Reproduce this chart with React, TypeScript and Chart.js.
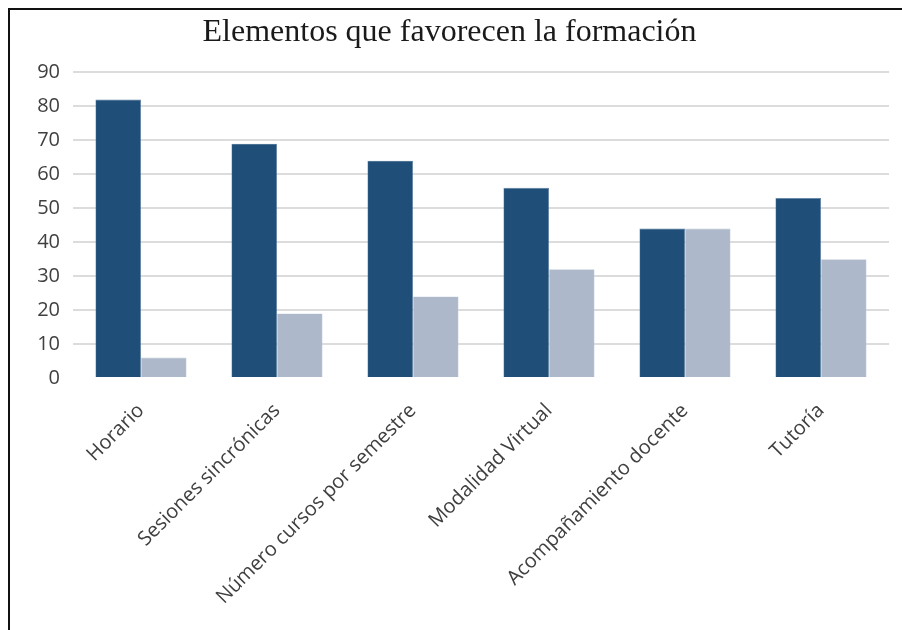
import React, { useEffect, useRef } from "react";
import { Chart, registerables } from "chart.js";

Chart.register(...registerables);

const categories = [
  "Horario",
  "Sesiones sincrónicas",
  "Número cursos por semestre",
  "Modalidad Virtual",
  "Acompañamiento docente",
  "Tutoría",
];
const seriesA = [82, 69, 64, 56, 44, 53];
const seriesB = [6, 19, 24, 32, 44, 35];
const yTicks = [0, 10, 20, 30, 40, 50, 60, 70, 80, 90];
const titleText = "Elementos que favorecen la formación";

export default function App() {
  const ref = useRef<HTMLCanvasElement | null>(null);
  useEffect(() => {
    if (!ref.current) return;
    const chart = new Chart(ref.current, {
      type: "bar",
      data: {
        labels: categories,
        datasets: [
          {
            label: "A",
            data: seriesA,
            backgroundColor: "#1F4E79",
            borderColor: "#5C7FA3",
            borderWidth: 0.6,
            categoryPercentage: 0.67,
            barPercentage: 1,
          },
          {
            label: "B",
            data: seriesB,
            backgroundColor: "#ADB9CA",
            borderColor: "#C4CDDA",
            borderWidth: 0.6,
            categoryPercentage: 0.67,
            barPercentage: 1,
          },
        ],
      },
      options: {
        animation: false,
        responsive: false,
        maintainAspectRatio: false,
        layout: { padding: { left: 0, right: 13, top: 0, bottom: 0 } },
        plugins: {
          legend: { display: false },
          tooltip: { enabled: false },
          title: {
            display: true,
            text: titleText,
            color: "#1a1a1a",
            font: { family: "'Liberation Serif', 'Times New Roman', serif", size: 32, weight: "normal" },
            padding: { top: 3, bottom: 21 },
          },
        },
        scales: {
          x: {
            grid: { display: false, drawTicks: false },
            border: { display: false },
            ticks: {
              color: "#404040",
              font: { family: "'Open Sans', sans-serif", size: 20 },
              minRotation: 45,
              maxRotation: 45,
              padding: 21,
            },
          },
          y: {
            min: 0,
            max: 90,
            afterBuildTicks: (scale: any) => {
              scale.ticks = yTicks.map((v) => ({ value: v }));
            },
            afterFit: (scale: any) => {
              scale.width = 63;
            },
            grid: {
              drawTicks: false,
              lineWidth: 2,
              color: (ctx: any) => (ctx.tick && ctx.tick.value === 0 ? "rgba(0,0,0,0)" : "#DCDCDC"),
            },
            border: { display: false },
            ticks: {
              color: "#404040",
              font: { family: "'Open Sans', sans-serif", size: 20 },
              padding: 13,
            },
          },
        },
      },
    });
    return () => chart.destroy();
  }, []);
  return (
    <div
      style={{
        position: "absolute",
        left: 8,
        top: 8,
        width: 894,
        height: 622,
        boxSizing: "border-box",
        borderTop: "2px solid #111",
        borderLeft: "2px solid #111",
        overflow: "hidden",
        background: "#fff",
      }}
    >
      <canvas ref={ref} width={892} height={620} style={{ display: "block", width: 892, height: 620 }} />
    </div>
  );
}
